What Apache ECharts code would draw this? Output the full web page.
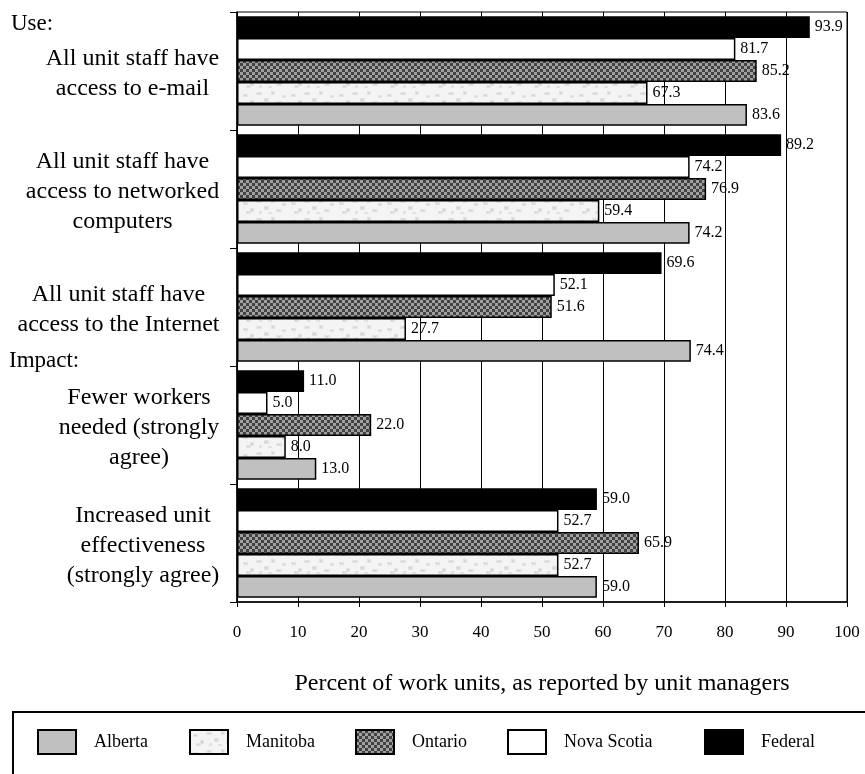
<!DOCTYPE html>
<html>
<head>
<meta charset="utf-8">
<script src="https://cdn.jsdelivr.net/npm/echarts@6/dist/echarts.min.js"></script>
<style>
html,body{margin:0;padding:0;background:#fff;}
#chart{width:865px;height:774px;}
</style>
</head>
<body>
<div id="chart"></div>
<script>
// Categories listed bottom-to-top (ECharts category y-axis starts at bottom)
const categories = [
  'Increased unit\neffectiveness\n(strongly agree)',
  'Fewer workers\nneeded (strongly\nagree)',
  'All unit staff have\naccess to the Internet',
  'All unit staff have\naccess to networked\ncomputers',
  'All unit staff have\naccess to e-mail'
];
const seriesNames = ['Alberta', 'Manitoba', 'Ontario', 'Nova Scotia', 'Federal'];
const alberta    = [59.0, 13.0, 74.4, 74.2, 83.6];
const manitoba   = [52.7,  8.0, 27.7, 59.4, 67.3];
const ontario    = [65.9, 22.0, 51.6, 76.9, 85.2];
const novaScotia = [52.7,  5.0, 52.1, 74.2, 81.7];
const federal    = [59.0, 11.0, 69.6, 89.2, 93.9];
const xTicks = [0, 10, 20, 30, 40, 50, 60, 70, 80, 90, 100];
const groupHeaders = ['Use:', 'Impact:'];
const xAxisTitle = 'Percent of work units, as reported by unit managers';

const FONT = "'Liberation Serif', 'Times New Roman', serif";
const CAT_FONT_SIZE = 24;

function checkerPattern() {
  const c = document.createElement('canvas');
  c.width = 6; c.height = 6;
  const g = c.getContext('2d');
  g.fillStyle = '#424242'; g.fillRect(0, 0, 6, 6);
  g.fillStyle = '#a0a0a0';
  g.fillRect(0, 0, 3, 3); g.fillRect(3, 3, 3, 3);
  return c;
}
function mottledPattern() {
  const c = document.createElement('canvas');
  c.width = 48; c.height = 18;
  const g = c.getContext('2d');
  g.fillStyle = '#f4f4f4'; g.fillRect(0, 0, 48, 18);
  g.fillStyle = '#e2e2e2';
  const blobs = [[3,4,5,3],[10,10,4,4],[16,2,6,3],[24,8,5,4],[31,1,4,4],[36,11,6,3],[42,5,4,3],[6,13,5,3],[19,13,3,3],[28,14,4,2]];
  blobs.forEach(s => g.fillRect(s[0], s[1], s[2], s[3]));
  g.fillStyle = '#d2d2d2';
  const spots = [[4,5,2,1],[11,11,2,2],[18,3,2,1],[25,9,2,2],[32,2,1,2],[38,12,2,1],[43,6,1,1],[7,14,2,1]];
  spots.forEach(s => g.fillRect(s[0], s[1], s[2], s[3]));
  return c;
}

// measure widest line of each category label so each block can be centred internally and right-aligned as a block
const measureCtx = document.createElement('canvas').getContext('2d');
measureCtx.font = CAT_FONT_SIZE + 'px ' + FONT;
const rich = {};
categories.forEach((cat, i) => {
  const w = Math.max.apply(null, cat.split('\n').map(l => measureCtx.measureText(l).width));
  rich['c' + i] = {
    width: Math.ceil(w) + 1, align: 'center',
    fontFamily: FONT, fontSize: CAT_FONT_SIZE, color: '#000', lineHeight: 30
  };
});

const fills = [
  '#c0c0c0',
  { image: mottledPattern(), repeat: 'repeat' },
  { image: checkerPattern(), repeat: 'repeat' },
  '#ffffff',
  '#000000'
];
const dataSets = [alberta, manitoba, ontario, novaScotia, federal];

const chart = echarts.init(document.getElementById('chart'), null, { renderer: 'canvas' });

// Series are added Federal-first so that Federal sits at the top of each band
const order = [4, 3, 2, 1, 0];
const series = order.map(i => ({
  name: seriesNames[i],
  type: 'bar',
  data: dataSets[i],
  barGap: '0%',
  barCategoryGap: '7%',
  itemStyle: { color: fills[i], borderColor: '#000', borderWidth: 1.5 },
  label: {
    show: true,
    position: 'right',
    distance: 5,
    color: '#000',
    fontFamily: FONT,
    fontSize: 16,
    formatter: p => Number(p.value).toFixed(1)
  },
  emphasis: { disabled: true },
  animation: false
}));

const legendLefts = [37, 189, 355, 507, 704];
const legends = seriesNames.map((name, i) => ({
  data: [name],
  left: legendLefts[i],
  top: 729,
  padding: 0,
  itemWidth: 38,
  itemHeight: 24,
  icon: 'rect',
  selectedMode: false,
  textStyle: { fontFamily: FONT, fontSize: 18, color: '#000', padding: [0, 0, 0, 13] }
}));

const option = {
  backgroundColor: '#fff',
  animation: false,
  grid: {
    left: 237, top: 12, width: 610, height: 590,
    show: true, borderColor: '#000', borderWidth: 1, backgroundColor: 'transparent',
    containLabel: false
  },
  legend: legends,
  xAxis: {
    type: 'value',
    min: 0, max: 100, interval: 10,
    name: xAxisTitle,
    nameLocation: 'middle',
    nameGap: 70,
    nameTextStyle: { fontFamily: FONT, fontSize: 24, color: '#000' },
    axisLine: { show: true, lineStyle: { color: '#000', width: 1.5 } },
    axisTick: { show: true, length: 5, lineStyle: { color: '#000' } },
    axisLabel: {
      fontFamily: FONT, fontSize: 17, color: '#000', margin: 22,
      formatter: v => (xTicks.indexOf(v) >= 0 ? String(v) : '')
    },
    splitLine: { show: true, lineStyle: { color: '#000', width: 1 } }
  },
  yAxis: {
    type: 'category',
    data: categories,
    axisLine: { show: true, lineStyle: { color: '#000', width: 1.5 } },
    axisTick: { show: true, length: 7, lineStyle: { color: '#000' } },
    axisLabel: {
      fontFamily: FONT, fontSize: CAT_FONT_SIZE, color: '#000',
      align: 'right', margin: 17, lineHeight: 30, padding: [6, 0, 0, 0],
      formatter: (value, idx) => value.split('\n').map(l => '{c' + idx + '|' + l + '}').join('\n'),
      rich: rich
    },
    splitLine: { show: false }
  },
  graphic: [
    { type: 'text', left: 11, top: 12, style: { text: groupHeaders[0], font: '23px ' + FONT, fill: '#000' } },
    { type: 'text', left: 9, top: 349, style: { text: groupHeaders[1], font: '23px ' + FONT, fill: '#000' } },
    { type: 'rect', shape: { x: 13, y: 712, width: 900, height: 120 }, style: { fill: 'none', stroke: '#000', lineWidth: 2 }, z: -1 }
  ],
  series: series
};
chart.setOption(option);
</script>
</body>
</html>
